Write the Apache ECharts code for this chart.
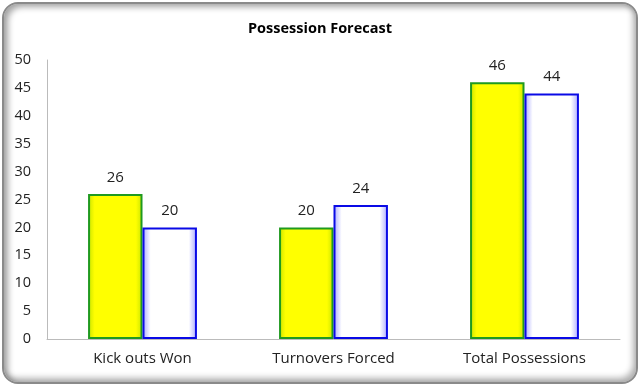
<!DOCTYPE html>
<html><head><meta charset="utf-8">
<script src="https://cdn.jsdelivr.net/npm/echarts@6/dist/echarts.min.js"></script>
<style>
html,body{margin:0;padding:0;background:#fff;}
#frame{position:absolute;left:2px;top:2px;width:632px;height:378px;border:2px solid #8a8a8a;border-radius:16px;box-shadow:inset 4px 3px 6px rgba(0,0,0,0.35), inset -3px -4px 6px rgba(0,0,0,0.3);background:#fff;}
#c{position:absolute;left:0;top:0;width:640px;height:386px;}
</style></head>
<body><div id="frame"></div><div id="c"></div>
<script>
var categories = ['Kick outs Won', 'Turnovers Forced', 'Total Possessions'];
var seriesA = [26, 20, 46];
var seriesB = [20, 24, 44];
var yTicks = [0, 5, 10, 15, 20, 25, 30, 35, 40, 45, 50];

var chart = echarts.init(document.getElementById('c'), null, {renderer:'canvas'});
var font = 'Open Sans, Liberation Sans, sans-serif';
chart.setOption({
  backgroundColor: 'transparent',
  animation: false,
  title: {text: 'Possession Forecast', left: 'center', top: 16,
    textStyle: {fontFamily: font, fontSize: 14.5, fontWeight: 'bold', color: '#000'}},
  grid: {left: 47, right: 20, top: 60, bottom: 47, containLabel: false},
  xAxis: {type: 'category', data: categories,
    axisLine: {lineStyle: {color: '#bbbbbb', width: 1}},
    axisTick: {show: false},
    axisLabel: {fontFamily: font, fontSize: 15, color: '#222', margin: 12}},
  yAxis: {type: 'value', min: yTicks[0], max: yTicks[yTicks.length-1], interval: 5,
    axisLine: {show: true, lineStyle: {color: '#bbbbbb', width: 1}},
    axisTick: {show: false},
    splitLine: {show: false},
    axisLabel: {fontFamily: font, fontSize: 14.5, color: '#222', margin: 16}},
  series: [
    {type: 'bar', data: seriesA, barGap: '0%', barCategoryGap: '43%',
      itemStyle: {borderColor: '#1f9a1f', borderWidth: 2,
        color: {type: 'linear', x: 0, y: 0, x2: 1, y2: 0, colorStops: [
          {offset: 0, color: '#c8e400'}, {offset: 0.12, color: '#ffff00'},
          {offset: 0.88, color: '#ffff00'}, {offset: 1, color: '#c8e400'}]}},
      label: {show: true, position: 'top', distance: 9, fontFamily: font, fontSize: 15, color: '#222'}},
    {type: 'bar', data: seriesB,
      itemStyle: {borderColor: '#0a0ae6', borderWidth: 2,
        color: {type: 'linear', x: 0, y: 0, x2: 1, y2: 0, colorStops: [
          {offset: 0, color: '#a8a8ff'}, {offset: 0.15, color: '#ffffff'},
          {offset: 0.85, color: '#ffffff'}, {offset: 1, color: '#a8a8ff'}]}},
      label: {show: true, position: 'top', distance: 9, fontFamily: font, fontSize: 15, color: '#222'}}
  ]
});
</script></body></html>
